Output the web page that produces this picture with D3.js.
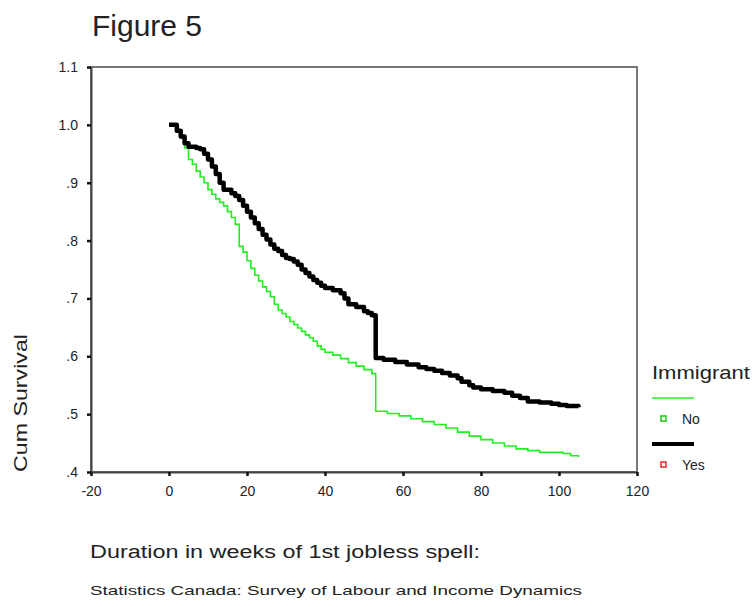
<!DOCTYPE html>
<html>
<head>
<meta charset="utf-8">
<script src="https://cdn.jsdelivr.net/npm/d3@7"></script>
<style>
  body { margin: 0; background: #fff; }
  text { font-family: "Liberation Sans", Arial, sans-serif; fill: #222; }
</style>
</head>
<body>
<div id="chart-area"></div>
<script>

// DATA ---------------------------------------------------------

// Kaplan-Meier steps, immigrant = Yes (black)
var yesWeeks = [0, 1, 2, 3, 4, 5, 7, 8, 9, 10, 11, 12, 13, 14, 16, 17, 18, 19, 20, 21, 22, 23, 24, 25,
    26, 27, 28, 29, 30, 31, 32, 33, 34, 35, 36, 37, 38, 39, 40, 42, 44, 45, 46, 48, 50, 51, 52, 53,
    55, 58, 61, 64, 66, 68, 70, 72, 74, 75, 77, 78, 80, 83, 86, 88, 90, 92, 95, 98, 100, 102, 105];
var yesSurvival = [1.000, 1.000, 0.990, 0.980, 0.968, 0.962, 0.960, 0.958, 0.950, 0.940, 0.928, 0.915,
    0.900, 0.888, 0.882, 0.877, 0.870, 0.860, 0.850, 0.840, 0.830, 0.820, 0.810, 0.802,
    0.793, 0.786, 0.782, 0.775, 0.770, 0.768, 0.764, 0.758, 0.750, 0.744, 0.738, 0.732, 0.727, 0.722,
    0.718, 0.714, 0.709, 0.700, 0.690, 0.685, 0.678, 0.675, 0.671, 0.597,
    0.594, 0.590, 0.586, 0.581, 0.578, 0.575, 0.571, 0.567, 0.562, 0.556, 0.550, 0.546, 0.543, 0.540,
    0.537, 0.532, 0.528, 0.522, 0.520, 0.518, 0.516, 0.514, 0.512];

// immigrant = No (green)
var noWeeks = [0, 1, 2, 3, 4, 5, 6, 7, 8, 9, 10, 11, 12, 13, 14, 15, 16, 17, 18, 19, 20, 21, 22, 23,
    24, 25, 26, 27, 28, 29, 30, 31, 32, 33, 34, 35, 36, 37, 38, 39, 40, 42, 44, 46, 48, 50, 52, 53,
    56, 59, 62, 65, 68, 71, 74, 77, 80, 83, 86, 89, 92, 95, 98, 101, 103, 105];
var noSurvival = [1.000, 1.000, 0.990, 0.977, 0.960, 0.940, 0.932, 0.920, 0.910, 0.900, 0.888, 0.880,
    0.872, 0.866, 0.860, 0.850, 0.840, 0.828, 0.790, 0.780, 0.765, 0.752, 0.740, 0.730,
    0.720, 0.712, 0.703, 0.690, 0.680, 0.674, 0.668, 0.660, 0.655, 0.649, 0.643, 0.637, 0.632, 0.626,
    0.618, 0.612, 0.607, 0.602, 0.596, 0.589, 0.583, 0.577, 0.570, 0.505,
    0.501, 0.497, 0.492, 0.487, 0.482, 0.476, 0.469, 0.462, 0.456, 0.450, 0.445, 0.440, 0.437, 0.434,
    0.434, 0.432, 0.428, 0.426];

var xTicks = [-20, 0, 20, 40, 60, 80, 100, 120];
var xTickLabels = ["-20", "0", "20", "40", "60", "80", "100", "120"];
var yTicks = [0.4, 0.5, 0.6, 0.7, 0.8, 0.9, 1.0, 1.1];
var yTickLabels = [".4", ".5", ".6", ".7", ".8", ".9", "1.0", "1.1"];

var legendNames = ["No", "Yes"];
var legendLineColors = ["#22ee22", "#000"];
var legendMarkColors = ["#22cc22", "#ee3333"];

var width = 755;
var height = 607;
var plot = { left: 91, right: 637, top: 67, bottom: 472 };


// SVG ----------------------------------------------------------

var svg = d3.select("#chart-area").append("svg")
    .attr("width", width)
    .attr("height", height);


// SCALES -------------------------------------------------------

var x = d3.scaleLinear()
    .domain([-20, 120])
    .range([plot.left, plot.right]);
var y = d3.scaleLinear()
    .domain([0.4, 1.1])
    .range([plot.bottom, plot.top]);


// FRAME + AXES -------------------------------------------------

// top/right edges are lighter than the two axes
svg.append("rect")
    .attr("x", plot.left)
    .attr("y", plot.top)
    .attr("width", plot.right - plot.left)
    .attr("height", plot.bottom - plot.top)
    .attr("fill", "none")
    .attr("stroke", "#777")
    .attr("stroke-width", 2);

var xAxisGroup = svg.append("g")
    .attr("transform", "translate(0, " + plot.bottom + ")")
    .call(d3.axisBottom(x).tickValues(xTicks).tickSize(4).tickSizeOuter(0).tickPadding(10)
        .tickFormat((d, i) => xTickLabels[i]));

var yAxisGroup = svg.append("g")
    .attr("transform", "translate(" + plot.left + ", 0)")
    .call(d3.axisLeft(y).tickValues(yTicks).tickSize(4).tickSizeOuter(0).tickPadding(9)
        .tickFormat((d, i) => yTickLabels[i]));

[xAxisGroup, yAxisGroup].forEach(g => {
    g.select(".domain").attr("stroke", "#444").attr("stroke-width", 2);
    g.selectAll(".tick line").attr("stroke", "#111").attr("stroke-width", 2.5);
    g.selectAll(".tick text")
        .style("font-family", "'Liberation Sans', Arial, sans-serif")
        .style("font-size", "14px")
        .attr("fill", "#333");
});


// LINES --------------------------------------------------------

var line = d3.line()
    .x(d => x(d[0]))
    .y(d => y(d[1]))
    .curve(d3.curveStepAfter);

svg.append("path")
    .datum(d3.zip(noWeeks, noSurvival))
    .attr("fill", "none")
    .attr("stroke", legendLineColors[0])
    .attr("stroke-width", 1.6)
    .attr("d", line);

svg.append("path")
    .datum(d3.zip(yesWeeks, yesSurvival))
    .attr("fill", "none")
    .attr("stroke", legendLineColors[1])
    .attr("stroke-width", 4.5)
    .attr("stroke-linejoin", "round")
    .attr("d", line);


// TEXTS --------------------------------------------------------

svg.append("text")
    .attr("x", 92)
    .attr("y", 36)
    .attr("font-size", "30px")
    .attr("fill", "#111")
    .text("Figure 5");

svg.append("text")
    .attr("transform", "translate(27, 403) rotate(-90)")
    .attr("text-anchor", "middle")
    .attr("font-size", "18px")
    .attr("textLength", 138)
    .attr("lengthAdjust", "spacingAndGlyphs")
    .text("Cum Survival");

svg.append("text")
    .attr("x", 90)
    .attr("y", 558)
    .attr("font-size", "18px")
    .attr("textLength", 390)
    .attr("lengthAdjust", "spacingAndGlyphs")
    .text("Duration in weeks of 1st jobless spell:");

svg.append("text")
    .attr("x", 90)
    .attr("y", 595)
    .attr("font-size", "13px")
    .attr("textLength", 492)
    .attr("lengthAdjust", "spacingAndGlyphs")
    .text("Statistics Canada: Survey of Labour and Income Dynamics");


// LEGEND -------------------------------------------------------

var legend = svg.append("g");

legend.append("text")
    .attr("x", 652)
    .attr("y", 379)
    .attr("font-size", "19px")
    .attr("textLength", 98)
    .attr("lengthAdjust", "spacingAndGlyphs")
    .text("Immigrant");

legendNames.forEach((name, i) => {
    var y0 = 398 + i * 46;
    legend.append("line")
        .attr("x1", 652).attr("x2", 694)
        .attr("y1", y0).attr("y2", y0)
        .attr("stroke", legendLineColors[i])
        .attr("stroke-width", i == 0 ? 1.6 : 4);
    legend.append("rect")
        .attr("x", 661).attr("y", y0 + 18)
        .attr("width", 5).attr("height", 5)
        .attr("fill", "#fff")
        .attr("stroke", legendMarkColors[i])
        .attr("stroke-width", 1.6);
    legend.append("text")
        .attr("x", 682)
        .attr("y", y0 + 26)
        .attr("font-size", "14px")
        .text(name);
});

</script>
</body>
</html>
